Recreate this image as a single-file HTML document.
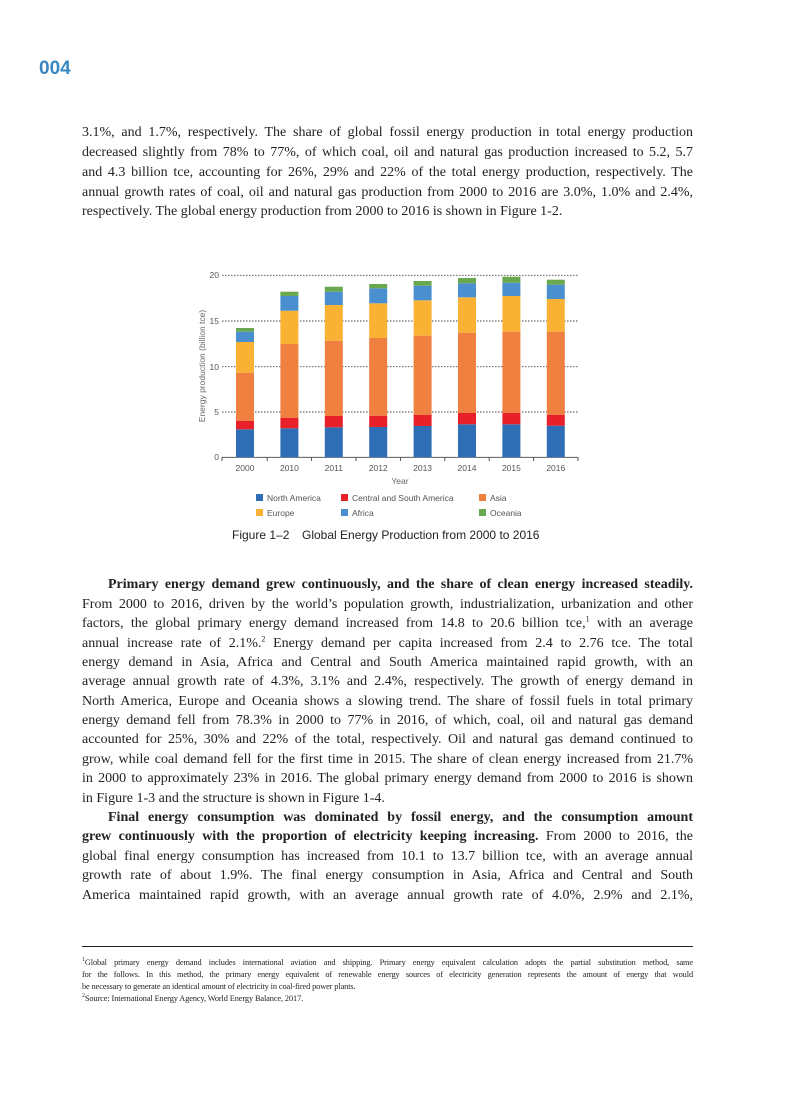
<!DOCTYPE html>
<html><head><meta charset="utf-8"><style>
body{margin:0;width:794px;height:1101px;background:#fff;position:relative;overflow:hidden;font-family:"Liberation Serif",serif;color:#222}
.l{position:absolute;left:82px;width:611px;font-size:14px;line-height:20px;height:20px;white-space:nowrap;text-align:justify;text-align-last:justify}
.l.e{text-align-last:left}
.in{left:82px}
.f{position:absolute;left:82px;width:611px;font-size:8.3px;line-height:12px;white-space:nowrap;text-align:justify;text-align-last:justify;letter-spacing:-0.1px}
.f.e{text-align-last:left}
sup{font-size:8px;line-height:0}
.f sup{font-size:6px}
</style></head><body>
<div style="position:absolute;left:39px;top:58px;font:bold 19px 'Liberation Sans',sans-serif;color:#3a88c2">004</div>

<div class="l" style="top:123px">3.1%, and 1.7%, respectively. The share of global fossil energy production in total energy production</div>
<div class="l" style="top:143px">decreased slightly from 78% to 77%, of which coal, oil and natural gas production increased to 5.2, 5.7</div>
<div class="l" style="top:163px">and 4.3 billion tce, accounting for 26%, 29% and 22% of the total energy production, respectively. The</div>
<div class="l" style="top:183px">annual growth rates of coal, oil and natural gas production from 2000 to 2016 are 3.0%, 1.0% and 2.4%,</div>
<div class="l e" style="top:202px">respectively. The global energy production from 2000 to 2016 is shown in Figure 1-2.</div>

<svg style="position:absolute;left:0;top:0" width="794" height="560" font-family="Liberation Sans,sans-serif">
<g stroke="#444" stroke-width="0.9" stroke-dasharray="1.5,1.5">
<line x1="222" y1="275.3" x2="578" y2="275.3"/><line x1="222" y1="321" x2="578" y2="321"/><line x1="222" y1="366.7" x2="578" y2="366.7"/><line x1="222" y1="412" x2="578" y2="412"/>
</g>
<g font-size="8.5" fill="#555" text-anchor="end">
<text x="219" y="278">20</text><text x="219" y="324">15</text><text x="219" y="370">10</text><text x="219" y="415">5</text><text x="219" y="460">0</text>
</g>
<text transform="translate(205,366) rotate(-90)" font-size="8.5" fill="#666" text-anchor="middle">Energy production (billion tce)</text>
<g id="bars"></g>
<line x1="222" y1="457.3" x2="578" y2="457.3" stroke="#444" stroke-width="0.9"/>
<g stroke="#444" stroke-width="0.9">
<line x1="222" y1="457" x2="222" y2="461"/><line x1="267.2" y1="457" x2="267.2" y2="461"/><line x1="311.6" y1="457" x2="311.6" y2="461"/><line x1="356" y1="457" x2="356" y2="461"/><line x1="400.4" y1="457" x2="400.4" y2="461"/><line x1="444.8" y1="457" x2="444.8" y2="461"/><line x1="489.2" y1="457" x2="489.2" y2="461"/><line x1="533.6" y1="457" x2="533.6" y2="461"/><line x1="578" y1="457" x2="578" y2="461"/>
</g>
<g font-size="8.5" fill="#555" text-anchor="middle">
<text x="245" y="471">2000</text><text x="289.4" y="471">2010</text><text x="333.8" y="471">2011</text><text x="378.2" y="471">2012</text><text x="422.6" y="471">2013</text><text x="467" y="471">2014</text><text x="511.4" y="471">2015</text><text x="555.8" y="471">2016</text>
<text x="400" y="484" fill="#666">Year</text>
</g>
<g font-size="8.5" fill="#555">
<rect x="256" y="494" width="7" height="7" fill="#2f6db5"/><text x="267" y="501">North America</text>
<rect x="341" y="494" width="7" height="7" fill="#e8202a"/><text x="352" y="501">Central and South America</text>
<rect x="479" y="494" width="7" height="7" fill="#f08040"/><text x="490" y="501">Asia</text>
<rect x="256" y="509" width="7" height="7" fill="#f9b233"/><text x="267" y="516">Europe</text>
<rect x="341" y="509" width="7" height="7" fill="#4a90d0"/><text x="352" y="516">Africa</text>
<rect x="479" y="509" width="7" height="7" fill="#6aa84f"/><text x="490" y="516">Oceania</text>
</g>
<text x="232" y="539" font-size="12" fill="#222">Figure 1–2</text>
<text x="302" y="539" font-size="12" fill="#222">Global Energy Production from 2000 to 2016</text>

<g>
<!-- 2000 x=236 -->
<rect x="236" y="429.3" width="18" height="28" fill="#2f6db5"/><rect x="236" y="420.7" width="18" height="8.6" fill="#e8202a"/><rect x="236" y="372.7" width="18" height="48" fill="#f08040"/><rect x="236" y="342" width="18" height="30.7" fill="#f9b233"/><rect x="236" y="331.7" width="18" height="10.3" fill="#4a90d0"/><rect x="236" y="328" width="18" height="3.7" fill="#6aa84f"/>
<!-- 2010 -->
<rect x="280.4" y="428.3" width="18" height="29" fill="#2f6db5"/><rect x="280.4" y="417.7" width="18" height="10.6" fill="#e8202a"/><rect x="280.4" y="344" width="18" height="73.7" fill="#f08040"/><rect x="280.4" y="310.7" width="18" height="33.3" fill="#f9b233"/><rect x="280.4" y="296" width="18" height="14.7" fill="#4a90d0"/><rect x="280.4" y="291.7" width="18" height="4.3" fill="#6aa84f"/>
<!-- 2011 -->
<rect x="324.8" y="427.3" width="18" height="30" fill="#2f6db5"/><rect x="324.8" y="416" width="18" height="11.3" fill="#e8202a"/><rect x="324.8" y="340.7" width="18" height="75.3" fill="#f08040"/><rect x="324.8" y="305" width="18" height="35.7" fill="#f9b233"/><rect x="324.8" y="291.7" width="18" height="13.3" fill="#4a90d0"/><rect x="324.8" y="286.7" width="18" height="5" fill="#6aa84f"/>
<!-- 2012 -->
<rect x="369.2" y="427" width="18" height="30.3" fill="#2f6db5"/><rect x="369.2" y="415.7" width="18" height="11.3" fill="#e8202a"/><rect x="369.2" y="338" width="18" height="77.7" fill="#f08040"/><rect x="369.2" y="303.3" width="18" height="34.7" fill="#f9b233"/><rect x="369.2" y="288.3" width="18" height="15" fill="#4a90d0"/><rect x="369.2" y="284" width="18" height="4.3" fill="#6aa84f"/>
<!-- 2013 -->
<rect x="413.6" y="426" width="18" height="31.3" fill="#2f6db5"/><rect x="413.6" y="414.7" width="18" height="11.3" fill="#e8202a"/><rect x="413.6" y="335.7" width="18" height="79" fill="#f08040"/><rect x="413.6" y="300.3" width="18" height="35.4" fill="#f9b233"/><rect x="413.6" y="285.7" width="18" height="14.6" fill="#4a90d0"/><rect x="413.6" y="281" width="18" height="4.7" fill="#6aa84f"/>
<!-- 2014 -->
<rect x="458" y="424.3" width="18" height="33" fill="#2f6db5"/><rect x="458" y="413" width="18" height="11.3" fill="#e8202a"/><rect x="458" y="332.7" width="18" height="80.3" fill="#f08040"/><rect x="458" y="297.3" width="18" height="35.4" fill="#f9b233"/><rect x="458" y="283.3" width="18" height="14" fill="#4a90d0"/><rect x="458" y="278" width="18" height="5.3" fill="#6aa84f"/>
<!-- 2015 -->
<rect x="502.4" y="424.3" width="18" height="33" fill="#2f6db5"/><rect x="502.4" y="413" width="18" height="11.3" fill="#e8202a"/><rect x="502.4" y="331.7" width="18" height="81.3" fill="#f08040"/><rect x="502.4" y="296" width="18" height="35.7" fill="#f9b233"/><rect x="502.4" y="282.7" width="18" height="13.3" fill="#4a90d0"/><rect x="502.4" y="276.7" width="18" height="6" fill="#6aa84f"/>
<!-- 2016 -->
<rect x="546.8" y="425.7" width="18" height="31.6" fill="#2f6db5"/><rect x="546.8" y="414.7" width="18" height="11" fill="#e8202a"/><rect x="546.8" y="331.7" width="18" height="83" fill="#f08040"/><rect x="546.8" y="299" width="18" height="32.7" fill="#f9b233"/><rect x="546.8" y="284.7" width="18" height="14.3" fill="#4a90d0"/><rect x="546.8" y="279.7" width="18" height="5" fill="#6aa84f"/>
</g>
</svg>

<div class="l" style="top:575px;left:108px;width:585px"><b>Primary energy demand grew continuously, and the share of clean energy increased steadily.</b></div>
<div class="l" style="top:595px">From 2000 to 2016, driven by the world’s population growth, industrialization, urbanization and other</div>
<div class="l" style="top:614px">factors, the global primary energy demand increased from 14.8 to 20.6 billion tce,<sup>1</sup> with an average</div>
<div class="l" style="top:634px">annual increase rate of 2.1%.<sup>2</sup> Energy demand per capita increased from 2.4 to 2.76 tce. The total</div>
<div class="l" style="top:653px">energy demand in Asia, Africa and Central and South America maintained rapid growth, with an</div>
<div class="l" style="top:672px">average annual growth rate of 4.3%, 3.1% and 2.4%, respectively. The growth of energy demand in</div>
<div class="l" style="top:692px">North America, Europe and Oceania shows a slowing trend. The share of fossil fuels in total primary</div>
<div class="l" style="top:711px">energy demand fell from 78.3% in 2000 to 77% in 2016, of which, coal, oil and natural gas demand</div>
<div class="l" style="top:730px">accounted for 25%, 30% and 22% of the total, respectively. Oil and natural gas demand continued to</div>
<div class="l" style="top:750px">grow, while coal demand fell for the first time in 2015. The share of clean energy increased from 21.7%</div>
<div class="l" style="top:769px">in 2000 to approximately 23% in 2016. The global primary energy demand from 2000 to 2016 is shown</div>
<div class="l e" style="top:789px">in Figure 1-3 and the structure is shown in Figure 1-4.</div>
<div class="l" style="top:808px;left:108px;width:585px"><b>Final energy consumption was dominated by fossil energy, and the consumption amount</b></div>
<div class="l" style="top:827px"><b>grew continuously with the proportion of electricity keeping increasing.</b> From 2000 to 2016, the</div>
<div class="l" style="top:847px">global final energy consumption has increased from 10.1 to 13.7 billion tce, with an average annual</div>
<div class="l" style="top:866px">growth rate of about 1.9%. The final energy consumption in Asia, Africa and Central and South</div>
<div class="l" style="top:886px">America maintained rapid growth, with an average annual growth rate of 4.0%, 2.9% and 2.1%,</div>

<div style="position:absolute;left:82px;top:946px;width:611px;height:1px;background:#222"></div>
<div class="f" style="top:957px"><sup>1</sup>Global primary energy demand includes international aviation and shipping. Primary energy equivalent calculation adopts the partial substitution method, same</div>
<div class="f" style="top:969px">for the follows. In this method, the primary energy equivalent of renewable energy sources of electricity generation represents the amount of energy that would</div>
<div class="f e" style="top:981px">be necessary to generate an identical amount of electricity in coal-fired power plants.</div>
<div class="f e" style="top:993px"><sup>2</sup>Source: International Energy Agency, World Energy Balance, 2017.</div>
</body></html>
